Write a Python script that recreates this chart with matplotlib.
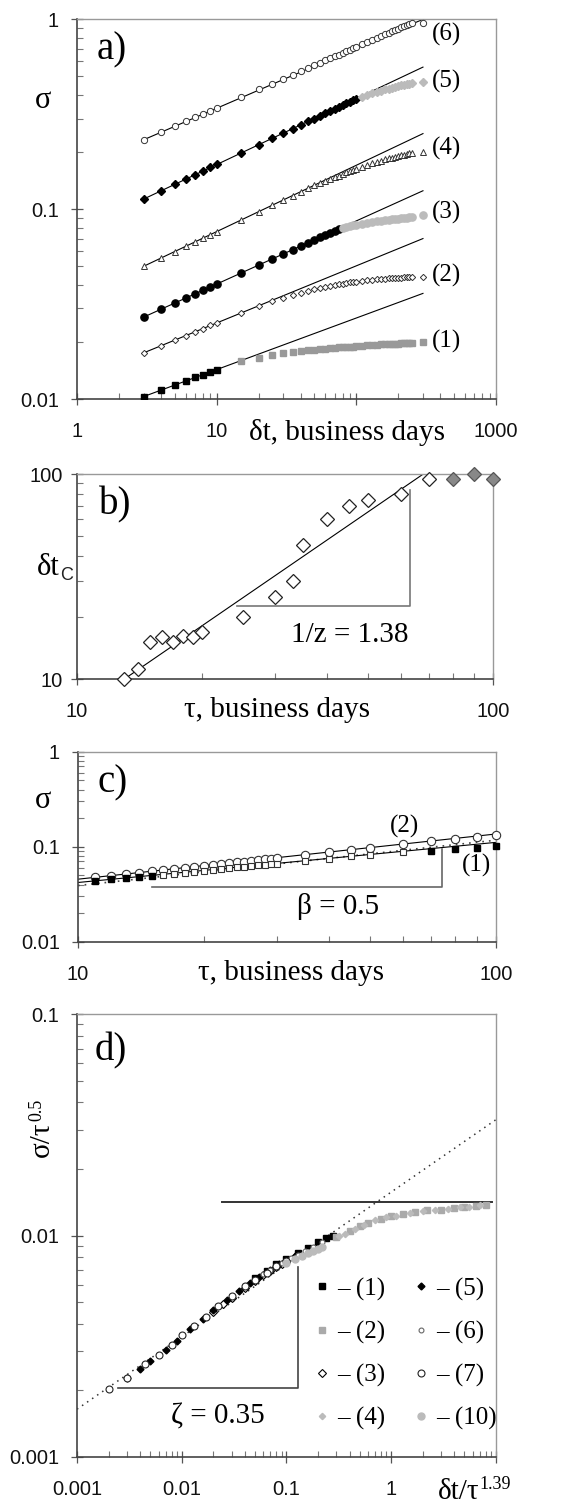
import matplotlib
matplotlib.use('Agg')
import matplotlib.pyplot as plt
from matplotlib.ticker import LogLocator, NullFormatter, FixedLocator

plt.rcParams['font.family'] = 'Liberation Sans'
SERIF = 'Liberation Serif'

# ---------------- data ----------------
# a) sigma vs delta t, six series
a_dt = [3, 4, 5, 6, 7, 8, 9, 10,
        15, 20, 25, 30, 35, 40, 45, 50, 55, 60, 65, 70, 75, 80, 85, 90, 95, 100,
        110, 120, 130, 140, 150, 160, 170, 180, 190, 200, 210, 220, 230, 240, 250,
        300]
a_s1 = [0.0103, 0.0111, 0.0118, 0.0124, 0.0130, 0.0134, 0.0139, 0.0143,
        0.0158, 0.0165, 0.0170, 0.0174, 0.0177, 0.0179, 0.0181, 0.0182, 0.0183, 0.0184, 0.0185,
        0.0186, 0.0187, 0.0188, 0.0188, 0.0189, 0.0189, 0.0190,
        0.0191, 0.0192, 0.0192, 0.0193, 0.0194, 0.0194, 0.0195, 0.0195, 0.0196, 0.0196, 0.0197,
        0.0197, 0.0198, 0.0198, 0.0198,
        0.0200]
a_s2 = [0.0175, 0.0191, 0.0204, 0.0216, 0.0226, 0.0235, 0.0244, 0.0251,
        0.0284, 0.0308, 0.0328, 0.0342, 0.0354, 0.0363, 0.0371, 0.0378, 0.0384, 0.0389, 0.0394,
        0.0398, 0.0402, 0.0405, 0.0408, 0.0411, 0.0413, 0.0415,
        0.0419, 0.0422, 0.0425, 0.0427, 0.0429, 0.0431, 0.0432, 0.0433, 0.0434, 0.0435, 0.0436,
        0.0437, 0.0437, 0.0438, 0.0438,
        0.0440]
a_s3 = [0.0270, 0.0297, 0.0320, 0.0340, 0.0358, 0.0374, 0.0389, 0.0403,
        0.0462, 0.0508, 0.0547, 0.0581, 0.0612, 0.0640, 0.0665, 0.0689, 0.0711, 0.0732, 0.0752,
        0.0771, 0.0789, 0.0800, 0.0808, 0.0815, 0.0822, 0.0828,
        0.0838, 0.0847, 0.0855, 0.0862, 0.0868, 0.0874, 0.0879, 0.0884, 0.0888, 0.0892, 0.0896,
        0.0899, 0.0902, 0.0905, 0.0908,
        0.0930]
a_s4 = [0.050, 0.0553, 0.0598, 0.0637, 0.0672, 0.0704, 0.0734, 0.0761,
        0.0877, 0.0970, 0.1048, 0.1117, 0.1179, 0.1235, 0.1287, 0.1335, 0.137, 0.140, 0.144,
        0.147, 0.150, 0.153, 0.156, 0.158, 0.161, 0.163,
        0.167, 0.171, 0.174, 0.177, 0.180, 0.183, 0.185, 0.187, 0.189, 0.191, 0.193,
        0.194, 0.196, 0.197, 0.198,
        0.201]
a_s5 = [0.113, 0.125, 0.135, 0.144, 0.152, 0.159, 0.166, 0.172,
        0.198, 0.219, 0.236, 0.252, 0.265, 0.278, 0.290, 0.300, 0.311, 0.320, 0.329,
        0.338, 0.346, 0.354, 0.361, 0.368, 0.375, 0.382,
        0.392, 0.400, 0.408, 0.415, 0.421, 0.427, 0.432, 0.437, 0.441, 0.445, 0.449,
        0.452, 0.455, 0.458, 0.461,
        0.470]
a_s6 = [0.232, 0.2545, 0.273, 0.290, 0.305, 0.318, 0.330, 0.341,
        0.389, 0.427, 0.458, 0.486, 0.510, 0.533, 0.553, 0.572, 0.590, 0.607, 0.623,
        0.638, 0.652, 0.666, 0.679, 0.691, 0.703, 0.715,
        0.737, 0.758, 0.778, 0.797, 0.815, 0.832, 0.848, 0.863, 0.879, 0.893, 0.907,
        0.921, 0.934, 0.947, 0.960,
        0.960]
# last delta t that still follows the power law (beyond: grey points)
a_fit_end = [10, None, 75, None, 100, None]
a_fit_x = [3, 300]
a_fit_y = [[0.0103, 0.036], [0.0175, 0.070], [0.027, 0.125],
           [0.050, 0.25], [0.113, 0.56], [0.232, 1.0]]
a_labels = ['(1)', '(2)', '(3)', '(4)', '(5)', '(6)']
a_label_y = [0.0201, 0.045, 0.0957, 0.21, 0.473, 0.83]

# b) crossover time vs tau
b_tau = [13, 14, 15, 16, 17, 18, 19, 20, 25, 30, 33, 35, 40, 45, 50, 60, 70]
b_dtc = [10, 11.15, 15.1, 16.1, 15.1, 16.2, 16.1, 17.0, 20.1, 25.2, 30.2, 45, 60, 70, 75, 80, 94.5]
b_tau_sat = [80, 90, 100]
b_dtc_sat = [94.5, 100, 94.5]
b_fit_x = [13, 68]
b_fit_y = [10, 100]

# c) sigma vs tau
c_tau = [11, 12, 13, 14, 15, 16, 17, 18, 19, 20, 21, 22, 23, 24, 25, 26, 27, 28, 29, 30,
         35, 40, 45, 50, 60, 70, 80, 90, 100]
c_s2 = [0.0475, 0.0495, 0.0515, 0.0533, 0.055, 0.0567, 0.0583, 0.0599, 0.0614, 0.063,
        0.0643, 0.0658, 0.067, 0.0685, 0.0698, 0.071, 0.0722, 0.0735, 0.0747, 0.0758,
        0.0815, 0.087, 0.092, 0.097, 0.106, 0.114, 0.121, 0.128, 0.134]
c_s1 = [0.0437, 0.0453, 0.0467, 0.0482, 0.0496, 0.0509, 0.0522, 0.0535, 0.0548, 0.056,
        0.0572, 0.0583, 0.0594, 0.0605, 0.0616, 0.0626, 0.0636, 0.0646, 0.0656, 0.0665,
        0.071, 0.075, 0.079, 0.0825, 0.089, 0.0905, 0.095, 0.098, 0.1025]
c_fit_x = [10, 100]
c_fit2 = [0.0455, 0.136]
c_fit1 = [0.042, 0.111]
c_guide = [0.039, 0.117]

# d) collapse sigma/tau^0.5 vs dt/tau^1.39
d_x1 = [0.05, 0.065, 0.08, 0.1, 0.13, 0.16, 0.2, 0.24, 0.28]
d_y1 = [0.0064, 0.0069, 0.0074, 0.0078, 0.0083, 0.0088, 0.0093, 0.0097, 0.0100]
d_x2 = [0.3, 0.4, 0.5, 0.6, 0.8, 1.0, 1.3, 1.7, 2.2, 3.0, 4.0, 5.0, 6.5, 8.0]
d_y2 = [0.0098, 0.0105, 0.0110, 0.0114, 0.0119, 0.0122, 0.0125, 0.0128, 0.0130, 0.0131,
        0.0133, 0.0135, 0.0136, 0.0138]
d_x3 = [0.02, 0.025, 0.03, 0.04, 0.05, 0.06, 0.07, 0.08, 0.09, 0.1, 0.12]
d_y3 = [0.0045, 0.0049, 0.0052, 0.0058, 0.0062, 0.0066, 0.0069, 0.0072, 0.0074, 0.0076, 0.0080]
d_x4 = [0.32, 0.36, 0.45, 0.55, 0.7, 0.9, 1.1, 1.5, 2.0, 2.6, 3.5, 4.5, 5.5, 7.0]
d_y4 = [0.0099, 0.0102, 0.0107, 0.0112, 0.0117, 0.0121, 0.0123, 0.0126, 0.0129, 0.0131,
        0.0132, 0.0134, 0.0135, 0.0137]
d_x5 = [0.003, 0.004, 0.005, 0.007, 0.009, 0.012, 0.016, 0.02, 0.027, 0.035, 0.045, 0.055,
        0.07, 0.085, 0.1, 0.12]
d_y5 = [0.00226, 0.0025, 0.0027, 0.00303, 0.00334, 0.00378, 0.0042, 0.0046, 0.0051, 0.0056,
        0.0061, 0.0065, 0.0070, 0.0074, 0.0077, 0.0081]
d_x6 = [0.04, 0.05, 0.06, 0.07, 0.08, 0.09, 0.1, 0.11, 0.13, 0.15, 0.18, 0.22]
d_y6 = [0.0059, 0.0063, 0.0067, 0.0070, 0.0073, 0.0075, 0.0077, 0.0079, 0.0082, 0.0085, 0.0089, 0.0093]
d_x7 = [0.002, 0.003, 0.0045, 0.006, 0.008, 0.01, 0.013, 0.017, 0.022, 0.03, 0.04, 0.05, 0.065, 0.08, 0.1]
d_y7 = [0.00202, 0.00228, 0.00262, 0.00289, 0.0032, 0.00355, 0.0039, 0.0043, 0.0048, 0.0053,
        0.0059, 0.0063, 0.0068, 0.0073, 0.0077]
d_x10 = [0.1, 0.12, 0.14, 0.16, 0.18, 0.2, 0.22]
d_y10 = [0.0075, 0.0078, 0.0081, 0.0083, 0.0085, 0.0087, 0.0089]
d_guide_x = [0.001, 10]
d_guide_y = [0.00164, 0.0334]
d_sat_x = [0.024, 9.1]
d_sat_y = [0.0141, 0.0141]
d_legend = ['– (1)', '– (2)', '– (3)', '– (4)', '– (5)', '– (6)', '– (7)', '– (10)']

# ---------------- figure ----------------
W, H = 588, 1511
fig = plt.figure(figsize=(W / 100, H / 100), dpi=100)


def add_ax(left, right, top, bottom):
    return fig.add_axes([left / W, 1 - bottom / H, (right - left) / W, (bottom - top) / H])


def style(ax, xlim, ylim, xt, xl, yt, yl, ypad=8.5):
    ax.set_xscale('log')
    ax.set_yscale('log')
    ax.set_xlim(xlim)
    ax.set_ylim(ylim)
    ax.xaxis.set_major_locator(FixedLocator(xt))
    ax.set_xticklabels(xl)
    ax.yaxis.set_major_locator(FixedLocator(yt))
    ax.set_yticklabels(yl)
    for axis in (ax.xaxis, ax.yaxis):
        axis.set_minor_locator(LogLocator(base=10, subs=range(2, 10), numticks=20))
        axis.set_minor_formatter(NullFormatter())
    ax.tick_params(which='major', direction='inout', length=9, width=0.9,
                   color='#555555', labelsize=14.5, labelcolor='#111111')
    ax.tick_params(which='minor', direction='in', length=4, width=0.8, color='#777777')
    ax.tick_params(axis='x', which='major', pad=12)
    ax.tick_params(axis='y', which='major', pad=ypad)
    for s in ('left', 'bottom'):
        ax.spines[s].set_color('#444444')
        ax.spines[s].set_linewidth(1.2)
    for s in ('top', 'right'):
        ax.spines[s].set_color('#999999')
        ax.spines[s].set_linewidth(1.0)


def panel_label(ax, x, y, s):
    ax.text(x, y, s, transform=ax.transAxes, family=SERIF, fontsize=28,
            ha='left', va='center')


# ---- a) ----
ax = add_ax(77, 496, 19.3, 399)
style(ax, (1, 1000), (0.01, 1), [1, 10, 100, 1000], ['1', '10', '', '1000'],
      [0.01, 0.1, 1], ['0.01', '0.1', '1'])
a_series = [a_s1, a_s2, a_s3, a_s4, a_s5, a_s6]
a_style = [dict(marker='s', ms=4.5, mfc='black', mec='black'),
           dict(marker='D', ms=3.2, mfc='white', mec='#333333', mew=0.7),
           dict(marker='o', ms=5.2, mfc='black', mec='black'),
           dict(marker='^', ms=4.5, mfc='white', mec='#333333', mew=0.7),
           dict(marker='D', ms=3.8, mfc='black', mec='black'),
           dict(marker='o', ms=4.5, mfc='white', mec='#333333', mew=0.7)]
for fy in a_fit_y:
    ax.plot(a_fit_x, fy, color='black', lw=0.8, zorder=2)
for ys, st, end in zip(a_series, a_style, a_fit_end):
    if end is None:
        ax.plot(a_dt, ys, ls='none', zorder=3, **st)
    else:
        xb = [x for x in a_dt if x <= end]
        yb = [y for x, y in zip(a_dt, ys) if x <= end]
        xg = [x for x in a_dt if x > end]
        yg = [y for x, y in zip(a_dt, ys) if x > end]
        ax.plot(xb, yb, ls='none', zorder=3, **st)
        gst = dict(st)
        gcol = '#999999' if st['marker'] == 's' else '#bbbbbb'
        gst.update(mfc=gcol, mec=gcol)
        ax.plot(xg, yg, ls='none', zorder=3, **gst)
for lab, ly in zip(a_labels, a_label_y):
    ax.text(345, ly, lab, family=SERIF, fontsize=18, ha='left', va='center', clip_on=False)
panel_label(ax, 0.048, 0.919, 'a)')
fig.text(43 / W, 1 - 100 / H, 'σ', family=SERIF, fontsize=22, ha='center', va='center')
fig.text(347 / W, 1 - 432 / H, 'δt, business days', family=SERIF, fontsize=21,
         ha='center', va='center')

# ---- b) ----
ax = add_ax(77, 493, 474, 679)
style(ax, (10, 100), (10, 100), [10, 100], ['10', '100'], [10, 100], ['10', '100'], ypad=6)
ax.plot(b_fit_x, b_fit_y, color='black', lw=0.8, zorder=2)
ax.plot(b_tau, b_dtc, ls='none', marker='D', ms=7, mfc='white', mec='#222222', mew=0.9,
        zorder=3, clip_on=False)
ax.plot(b_tau_sat, b_dtc_sat, ls='none', marker='D', ms=7, mfc='#888888', mec='#555555',
        mew=0.9, zorder=3, clip_on=False)
ax.plot([24.3, 63.1, 63.1], [22.8, 22.8, 83.6], color='#777777', lw=1.2)
ax.text(45.3, 16.4, '1/z = 1.38', family=SERIF, fontsize=21, ha='center', va='center')
panel_label(ax, 0.053, 0.849, 'b)')
t = fig.text(37 / W, 1 - 567 / H, 'δt', family=SERIF, fontsize=22, ha='left', va='center')
ax.annotate('C', xy=(1.0, 0.22), xycoords=t, fontsize=13, ha='left', va='center',
            color='#222222', annotation_clip=False)
fig.text(277 / W, 1 - 710 / H, 'τ, business days', family=SERIF, fontsize=21,
         ha='center', va='center')

# ---- c) ----
ax = add_ax(78, 495.7, 751.7, 941.7)
style(ax, (10, 100), (0.01, 1), [10, 100], ['10', '100'], [0.01, 0.1, 1], ['0.01', '0.1', '1'])
ax.plot(c_fit_x, c_guide, color='#444444', lw=1.2, ls=(0, (1, 3)), zorder=2)
ax.plot(c_fit_x, c_fit2, color='black', lw=0.8, zorder=2)
ax.plot(c_fit_x, c_fit1, color='black', lw=0.8, zorder=2)
ax.plot(c_tau, c_s2, ls='none', marker='o', ms=6, mfc='white', mec='#333333', mew=0.8,
        zorder=3, clip_on=False)
c_open_t = [t_ for t_ in c_tau if 15 < t_ < 70]
c_open_s = [s for t_, s in zip(c_tau, c_s1) if 15 < t_ < 70]
c_fill_t = [t_ for t_ in c_tau if t_ <= 15 or t_ >= 70]
c_fill_s = [s for t_, s in zip(c_tau, c_s1) if t_ <= 15 or t_ >= 70]
ax.plot(c_open_t, c_open_s, ls='none', marker='s', ms=5, mfc='white', mec='#333333',
        mew=0.8, zorder=3)
ax.plot(c_fill_t, c_fill_s, ls='none', marker='s', ms=4.5, mfc='black', mec='black',
        zorder=3, clip_on=False)
ax.plot([15, 74.5, 74.5], [0.038, 0.038, 0.0945], color='#666666', lw=1.2)
ax.text(41.9, 0.0233, 'β = 0.5', family=SERIF, fontsize=21, ha='center', va='center')
ax.text(60.5, 0.162, '(2)', family=SERIF, fontsize=18, ha='center', va='center')
ax.text(90, 0.063, '(1)', family=SERIF, fontsize=18, ha='center', va='center')
panel_label(ax, 0.046, 0.837, 'c)')
fig.text(43 / W, 1 - 800 / H, 'σ', family=SERIF, fontsize=22, ha='center', va='center')
fig.text(291 / W, 1 - 973 / H, 'τ, business days', family=SERIF, fontsize=21,
         ha='center', va='center')

# ---- d) ----
ax = add_ax(77, 496, 1014.3, 1456.7)
style(ax, (0.001, 10), (0.001, 0.1), [0.001, 0.01, 0.1, 1, 10],
      ['0.001', '0.01', '0.1', '1', ''], [0.001, 0.01, 0.1], ['0.001', '0.01', '0.1'])
ax.plot(d_guide_x, d_guide_y, color='#333333', lw=1.1, ls=(0, (1, 3)), zorder=2)
ax.plot(d_sat_x, d_sat_y, color='#333333', lw=1.4, zorder=2)
ax.plot([0.00248, 0.128, 0.128], [0.00204, 0.00204, 0.00719], color='#444444', lw=1.2)
d_sets = [(d_x1, d_y1, dict(marker='s', ms=4, mfc='black', mec='black')),
          (d_x2, d_y2, dict(marker='s', ms=4, mfc='#aaaaaa', mec='#aaaaaa')),
          (d_x3, d_y3, dict(marker='D', ms=4, mfc='white', mec='black', mew=0.8)),
          (d_x4, d_y4, dict(marker='D', ms=3.2, mfc='#bbbbbb', mec='#bbbbbb')),
          (d_x5, d_y5, dict(marker='D', ms=3.5, mfc='black', mec='black')),
          (d_x6, d_y6, dict(marker='o', ms=3.5, mfc='white', mec='#666666', mew=0.8)),
          (d_x7, d_y7, dict(marker='o', ms=5, mfc='white', mec='#222222', mew=0.8)),
          (d_x10, d_y10, dict(marker='o', ms=5, mfc='#bbbbbb', mec='#bbbbbb'))]
handles = []
for (xs, ys, st), lab in zip(d_sets, d_legend):
    h, = ax.plot(xs, ys, ls='none', zorder=3, label=lab, **st)
    handles.append(h)
ax.legend(handles=handles, ncol=2, loc='upper left', bbox_to_anchor=(0.567, 0.405),
          frameon=False, prop={'family': SERIF, 'size': 18}, handlelength=0.6,
          handletextpad=0.3, columnspacing=1.15, labelspacing=0.8, borderpad=0,
          borderaxespad=0, markerscale=1.0)
ax.text(0.022, 0.00152, 'ζ = 0.35', family=SERIF, fontsize=21, ha='center', va='center')
panel_label(ax, 0.043, 0.917, 'd)')
t = fig.text(42 / W, 1 - 1157 / H, 'σ/τ', family=SERIF, fontsize=21, rotation=90,
             ha='center', va='bottom')
ax.annotate('0.5', xy=(0.3, 1.0), xycoords=t, family=SERIF, fontsize=13, rotation=90,
            ha='center', va='bottom', annotation_clip=False)
t = fig.text(438 / W, 1 - 1492 / H, 'δt/τ', family=SERIF, fontsize=21, ha='left', va='center')
ax.annotate('1.39', xy=(1.0, 0.78), xycoords=t, family=SERIF, fontsize=13,
            ha='left', va='center', annotation_clip=False)

fig.savefig('out.png', dpi=100)
